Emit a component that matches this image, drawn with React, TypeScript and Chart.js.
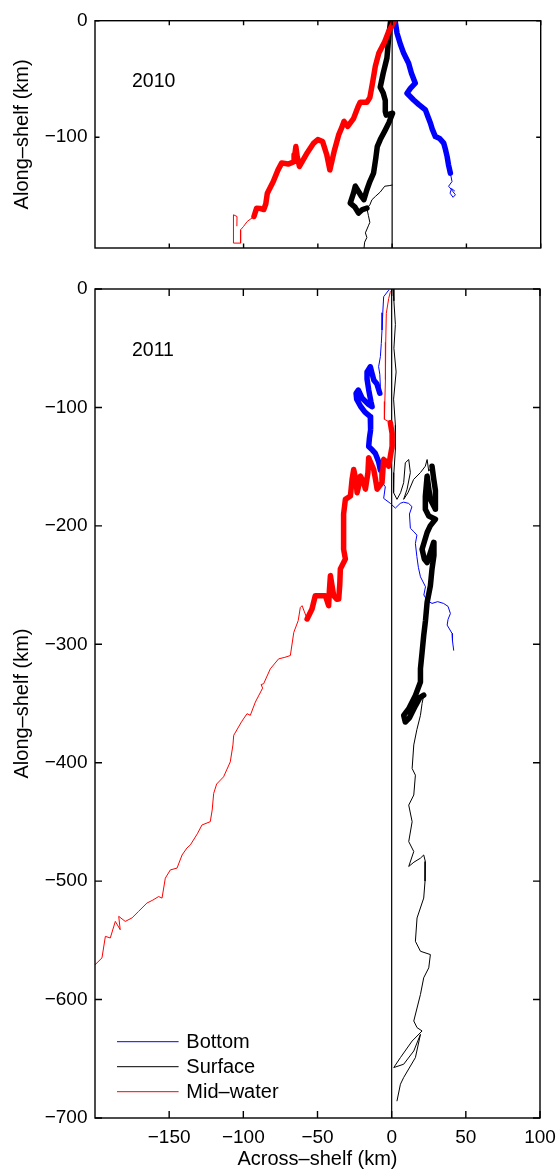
import React, { useEffect, useRef } from "react";
import { Chart, registerables } from "chart.js";

Chart.register(...registerables);

type Pt = [number, number];

// ---------- labels / ticks ----------
const SERIES_NAMES = ["Bottom", "Surface", "Mid–water"];
const SERIES_COLORS = ["#0000ff", "#000000", "#ff0000"];
const YEARS = ["2010", "2011"];
const X_TICKS = [-150, -100, -50, 0, 50, 100];
const Y_TICKS_2010 = [-100, 0];
const Y_TICKS_2011 = [-700, -600, -500, -400, -300, -200, -100, 0];
const X_RANGE = [-200, 100];
const Y_MIN_2010 = -195;
const Y_MIN_2011 = -700;

// ---------- 2010 tracks (km) ----------
const bottom2010Thick: Pt[] = [
  [2, 0], [3.3, -10.8], [5.5, -20], [7.8, -28], [11.1, -36.5], [13, -45], [15.6, -53.6],
  [12.3, -58], [10, -62.2], [14.5, -68], [18, -72], [22.4, -76.5], [24, -82], [25.8, -88],
  [27, -93], [29.1, -99.4], [32, -101], [34.7, -105], [36, -111], [37, -116.5], [38, -124],
  [39.2, -130.8],
];
const bottom2010Thin: Pt[] = [
  [39.2, -130.8], [40.3, -138], [38, -142], [40, -145], [42.6, -149.4], [41, -151.5],
  [39, -148], [40, -144], [42, -146],
];
const surface2010Thick: Pt[] = [
  [-1, 0], [-2, -10], [-3.5, -32], [-6, -45], [-8, -57], [-6, -62], [-4.6, -68.5],
  [-4.6, -78], [-4, -81], [0.3, -79.4], [-2, -87], [-4.6, -93.7], [-8, -102], [-10, -108],
  [-11, -118], [-12.5, -130.8], [-15, -138], [-17, -145], [-19, -153.6], [-21, -150],
  [-24.8, -142], [-26, -148], [-28.2, -156.5], [-25, -160], [-22.6, -165], [-20, -162],
  [-17, -160.8],
];
const surface2010Thin: Pt[] = [
  [0, -141], [-2, -141.5], [-5, -142], [-8, -147], [-11.3, -150.8], [-13.6, -153.6],
  [-15, -158], [-17, -161], [-16, -167], [-15, -173], [-16, -176], [-18, -182],
  [-17, -186], [-18.5, -190], [-19, -196],
];
const midwater2010Thick: Pt[] = [
  [1.5, 0], [0, -4], [-2.4, -9.4], [-5, -18], [-9, -28], [-11.3, -39], [-13, -52],
  [-15, -66], [-17, -70], [-21.5, -70], [-23, -74], [-26, -84], [-29.9, -90.7],
  [-32.4, -86.5], [-34, -92], [-36, -98], [-39, -112], [-41.9, -128], [-44, -115],
  [-46.8, -103.7], [-50, -102], [-52.8, -105], [-57, -113], [-62.4, -125], [-64, -116],
  [-64.8, -108], [-65.5, -115], [-66, -121], [-70, -123], [-74.3, -122], [-76.8, -128],
  [-80, -138], [-84, -148], [-85, -157], [-86.4, -162], [-89, -161], [-91.2, -160.8],
  [-93, -168],
];
const midwater2010Thin: Pt[] = [
  [-93, -168], [-97.6, -172.3], [-100, -176.5], [-102, -179.4], [-102, -186],
  [-102, -190.8], [-106.7, -190.8], [-106.8, -180], [-106.8, -166.5], [-104.4, -168],
  [-104.5, -176],
];

// ---------- 2011 tracks (km) ----------
const bottom2011ThinA: Pt[] = [
  [-2, -1], [-5.4, -6.5], [-6, -20], [-6.5, -34.6], [-7, -46], [-7.6, -57], [-8.8, -65.6],
  [-8, -72], [-7.6, -82.5], [-8, -88],
];
const bottom2011Thick: Pt[] = [
  [-8, -88], [-10, -80], [-12, -77], [-13.5, -70], [-14.4, -65.6], [-16.6, -70],
  [-16.6, -76], [-15.5, -85], [-14, -95], [-13.2, -99.4], [-16, -97], [-20, -92],
  [-22.5, -85.3], [-24, -88], [-23.6, -93], [-21, -99], [-18, -104], [-14.4, -107.8],
  [-14, -113], [-14.4, -119], [-15, -126], [-15.5, -133], [-13, -136], [-11, -138.8],
  [-8.8, -145.9], [-7.6, -152.9],
];
const bottom2011ThinB: Pt[] = [
  [-7.6, -152.9], [-7.6, -161], [-4.3, -167], [-5.4, -176.8], [-0.9, -181], [2.5, -185],
  [5.8, -181], [8, -180], [11.4, -181], [13.7, -183.8], [12, -190], [12.6, -202], [15, -205],
  [17, -207.8], [16, -215], [17, -226], [18, -235], [19.4, -243], [22.8, -251.4],
  [21.7, -258.4], [24, -263], [27.2, -265.5], [31, -264], [35, -265.5], [38, -268],
  [39.6, -274], [38, -279], [37.4, -283.8], [40.7, -290.8], [41, -297], [41.8, -305],
];
const surface2011ThinA: Pt[] = [
  [1, 0], [1.5, -10], [2.5, -30], [1.5, -50], [3, -70], [1.3, -93], [2.5, -115],
  [2.5, -135.5], [1.5, -155], [1.3, -172], [3.6, -177.6], [6, -172], [8.1, -163.5],
  [9.2, -146.7], [11.5, -144], [12.6, -155], [10.4, -169], [8.1, -177.6], [11, -172],
  [14.8, -160.8], [19.4, -155], [22.7, -149.6], [23.9, -144], [25, -153.8], [27.2, -149.6],
];
const surface2011Thick: Pt[] = [
  [27.2, -149.6], [28.3, -160], [29.5, -170], [29.5, -186], [26, -177.6], [23.9, -158],
  [22.7, -175], [22.7, -186], [25, -191.7], [29.5, -194.4], [26, -200], [23.9, -205.6],
  [20.5, -219.7], [22, -228], [23.9, -231], [28.3, -214], [28.5, -225], [27.2, -236.5],
  [26.1, -250.6], [23.9, -264.6], [22.8, -280], [21.6, -292.7], [20.5, -307],
  [19.4, -320.7], [19.4, -331.9], [16, -343.2], [11.5, -354.4], [8.1, -360], [9.2, -365.6],
  [12, -362], [16, -352], [19, -345], [21.6, -343],
];
const surface2011ThinB: Pt[] = [
  [21.6, -343], [20.5, -350], [19.4, -360], [17, -372], [14.9, -385], [13.8, -404.9],
  [16, -410.5], [14.9, -427.3], [11.5, -435.8], [13.8, -449.8], [11.5, -466.6],
  [14.9, -475], [11.5, -487.6], [15, -484], [19.4, -480.6], [21.6, -477.9], [22.7, -483.4],
  [22.5, -500], [21.6, -514.3], [17.1, -531.1], [16, -550.8], [19.4, -559.2], [26.1, -562],
  [25, -573.2], [21.6, -581.6], [19.4, -595.7], [14.9, -618.1], [17.1, -623.7],
  [20.5, -626.5], [13.8, -635], [5.9, -649], [1.4, -657.4], [8.1, -654.6], [14.9, -643.4],
  [19.4, -629.4], [16, -649], [8.1, -665.8], [5.9, -671.5], [3.6, -685.5],
];
const midwater2011ThinA: Pt[] = [
  [0.5, 0], [-1, -3], [-2, -8], [-3.6, -20.5], [-4, -45], [-4.2, -76.6], [-4.6, -95],
  [-4.9, -110], [-2, -112], [-0.9, -113],
];
const midwater2011Thick: Pt[] = [
  [-0.9, -113], [0.3, -122], [0.3, -132.7], [-1, -142], [-2, -149.6], [-3.5, -146],
  [-5.4, -144], [-6, -155], [-6.5, -163.5], [-9.8, -169], [-11, -160], [-12.1, -152.4],
  [-15.5, -142.5], [-16, -155], [-17.7, -169], [-19, -163], [-21.1, -158], [-22, -165],
  [-23.3, -172], [-24, -162], [-25.6, -152.4], [-26.7, -160.8], [-27.8, -174.8],
  [-31.2, -177.6], [-32.4, -190], [-32.4, -200], [-32.4, -219.7], [-31.2, -228],
  [-34.6, -236.5], [-35, -250], [-35.7, -261.8], [-37, -262], [-39.1, -259], [-41.3, -242],
  [-42, -255], [-42.5, -267.4], [-44.7, -259], [-48, -259], [-51.5, -259], [-53.7, -270.2],
  [-57, -278.6],
];
const midwater2011ThinB: Pt[] = [
  [-57, -278.6], [-59, -272], [-60.4, -267.4], [-61.6, -269], [-63, -280], [-66, -290],
  [-68.3, -309.5], [-72, -311], [-76.2, -312.3], [-81.8, -320.7], [-86.3, -333.3],
  [-88, -334], [-87, -337], [-91.9, -348.8], [-95.3, -360], [-97.5, -358.6], [-101, -365],
  [-106.5, -376.9], [-107, -385], [-108.8, -399.3], [-113.3, -411.9], [-118, -418],
  [-120, -426], [-121, -440], [-122.3, -449.8], [-127.9, -452.6], [-131, -460],
  [-135.7, -469.4], [-138, -472], [-141.3, -477.9], [-144.7, -489], [-149.2, -490.5],
  [-152.6, -497.5], [-154.8, -514.3], [-157.1, -513], [-161, -516], [-165, -518.5],
  [-170.6, -525.5], [-175, -531], [-179.6, -534], [-184, -529.7], [-183, -541],
  [-186.3, -534], [-189.7, -548], [-193, -546.6], [-195.3, -564.8], [-199.8, -570.4],
];

const THICK = 5.5;
const THIN = 1;
const FONT = '"Liberation Sans", Arial, Helvetica, sans-serif';
const TICK_SIZE = 19;
const TITLE_SIZE = 20;

const fmt = (v: number) => (v < 0 ? "\u2212" + Math.abs(v) : String(v));

function line(pts: Pt[], color: string, width: number) {
  return {
    data: pts.map(([x, y]) => ({ x, y })),
    borderColor: color,
    backgroundColor: color,
    borderWidth: width,
    showLine: true,
    pointRadius: 0,
    pointHoverRadius: 0,
    tension: 0,
    fill: false,
    borderJoinStyle: "round",
    borderCapStyle: "round",
  };
}

const framePlugin = {
  id: "frame",
  afterDatasetsDraw(chart: any, _args: any, opts: any) {
    const { ctx, chartArea: a, scales } = chart;
    const len = opts.tickLen;
    ctx.save();
    ctx.strokeStyle = "#000";
    ctx.lineWidth = 1.4;
    ctx.strokeRect(a.left, a.top, a.right - a.left, a.bottom - a.top);
    ctx.beginPath();
    for (const t of scales.x.ticks) {
      const px = scales.x.getPixelForValue(t.value);
      ctx.moveTo(px, a.bottom);
      ctx.lineTo(px, a.bottom - len);
      ctx.moveTo(px, a.top);
      ctx.lineTo(px, a.top + len);
    }
    for (const t of scales.y.ticks) {
      const py = scales.y.getPixelForValue(t.value);
      ctx.moveTo(a.left, py);
      ctx.lineTo(a.left + len, py);
      ctx.moveTo(a.right, py);
      ctx.lineTo(a.right - len, py);
    }
    ctx.stroke();
    ctx.fillStyle = "#000";
    ctx.font = `19.5px ${FONT}`;
    ctx.textBaseline = "alphabetic";
    ctx.textAlign = "left";
    ctx.fillText(opts.year, a.left + 37, a.top + 66.6);
    if (opts.legend) {
      ctx.font = `20px ${FONT}`;
      ctx.textBaseline = "middle";
      SERIES_NAMES.forEach((name, i) => {
        const y = a.bottom - 76.3 + i * 25;
        ctx.strokeStyle = SERIES_COLORS[i];
        ctx.lineWidth = 1;
        ctx.beginPath();
        ctx.moveTo(a.left + 22, y);
        ctx.lineTo(a.left + 83.6, y);
        ctx.stroke();
        ctx.fillStyle = "#000";
        ctx.fillText(name, a.left + 91.3, y + 1);
      });
    }
    ctx.restore();
  },
};

function makeConfig(p: {
  datasets: any[];
  yMin: number;
  yTicks: number[];
  showXLabels: boolean;
  padding: any;
  xAxisHeight: number;
  tickLen: number;
  year: string;
  legend: boolean;
}) {
  return {
    type: "scatter",
    data: { datasets: p.datasets },
    plugins: [framePlugin],
    options: {
      responsive: false,
      animation: false,
      events: [],
      devicePixelRatio: 1,
      layout: { padding: p.padding },
      plugins: {
        legend: { display: false },
        tooltip: { enabled: false },
        frame: { tickLen: p.tickLen, year: p.year, legend: p.legend },
      },
      scales: {
        x: {
          type: "linear",
          min: X_RANGE[0],
          max: X_RANGE[1],
          grid: { display: false, drawTicks: false },
          border: { display: false },
          afterBuildTicks: (s: any) => {
            s.ticks = X_TICKS.map((v) => ({ value: v }));
          },
          afterFit: (s: any) => {
            s.height = p.xAxisHeight;
            s.paddingLeft = 0;
            s.paddingRight = 0;
            s.paddingTop = 0;
            s.paddingBottom = 0;
          },
          ticks: {
            display: p.showXLabels,
            autoSkip: false,
            maxRotation: 0,
            padding: 8.5,
            color: "#000",
            font: { family: FONT, size: TICK_SIZE },
            callback: (v: any) => fmt(Number(v)),
          },
          title: {
            display: p.showXLabels,
            text: "Across–shelf (km)",
            color: "#000",
            font: { family: FONT, size: TITLE_SIZE },
            padding: { top: 0, bottom: 0 },
          },
        },
        y: {
          type: "linear",
          min: p.yMin,
          max: 0,
          grid: { display: false, drawTicks: false },
          border: { display: false },
          afterBuildTicks: (s: any) => {
            s.ticks = p.yTicks.map((v) => ({ value: v }));
          },
          afterFit: (s: any) => {
            s.width = 95;
            s.paddingLeft = 0;
            s.paddingRight = 0;
            s.paddingTop = 0;
            s.paddingBottom = 0;
          },
          ticks: {
            autoSkip: false,
            padding: 7.5,
            color: "#000",
            font: { family: FONT, size: TICK_SIZE },
            callback: (v: any) => fmt(Number(v)),
          },
          title: {
            display: true,
            text: "Along–shelf (km)",
            color: "#000",
            font: { family: FONT, size: TITLE_SIZE },
            padding: { top: 10, bottom: 0 },
          },
        },
      },
    },
  };
}

export default function App() {
  const topRef = useRef<HTMLCanvasElement | null>(null);
  const botRef = useRef<HTMLCanvasElement | null>(null);

  useEffect(() => {
    const [cB, cS, cM] = SERIES_COLORS;
    const zero2010: Pt[] = [[0, 0], [0, Y_MIN_2010]];
    const zero2011: Pt[] = [[0, 0], [0, Y_MIN_2011]];
    const topDatasets = [
      line(midwater2010Thick, cM, THICK),
      line(midwater2010Thin, cM, THIN),
      line(surface2010Thick, cS, THICK),
      line(surface2010Thin, cS, THIN),
      line(bottom2010Thick, cB, THICK),
      line(bottom2010Thin, cB, THIN),
      line(zero2010, "#000", 1.2),
    ];
    const botDatasets = [
      line(midwater2011Thick, cM, THICK),
      line(midwater2011ThinA, cM, THIN),
      line(midwater2011ThinB, cM, THIN),
      line(surface2011Thick, cS, THICK),
      line(surface2011ThinA, cS, THIN),
      line(surface2011ThinB, cS, THIN),
      line(bottom2011Thick, cB, THICK),
      line(bottom2011ThinA, cB, THIN),
      line(bottom2011ThinB, cB, THIN),
      line(zero2011, "#000", 1.2),
    ];
    const top = new Chart(
      topRef.current as HTMLCanvasElement,
      makeConfig({
        datasets: topDatasets,
        yMin: Y_MIN_2010,
        yTicks: Y_TICKS_2010,
        showXLabels: false,
        padding: { left: 0, right: 17.3, top: 20.7, bottom: 0 },
        xAxisHeight: 10,
        tickLen: 4.5,
        year: YEARS[0],
        legend: false,
      }) as any
    );
    const bot = new Chart(
      botRef.current as HTMLCanvasElement,
      makeConfig({
        datasets: botDatasets,
        yMin: Y_MIN_2011,
        yTicks: Y_TICKS_2011,
        showXLabels: true,
        padding: { left: 0, right: 18, top: 31, bottom: 0 },
        xAxisHeight: 53,
        tickLen: 7,
        year: YEARS[1],
        legend: true,
      }) as any
    );
    return () => {
      top.destroy();
      bot.destroy();
    };
  }, []);

  return (
    <div style={{ position: "absolute", left: 0, top: 0, width: 558, height: 1171, background: "#fff" }}>
      <canvas
        ref={topRef}
        width={558}
        height={258}
        style={{ position: "absolute", left: 0, top: 0, width: 558, height: 258 }}
      />
      <canvas
        ref={botRef}
        width={558}
        height={913}
        style={{ position: "absolute", left: 0, top: 258, width: 558, height: 913 }}
      />
    </div>
  );
}
